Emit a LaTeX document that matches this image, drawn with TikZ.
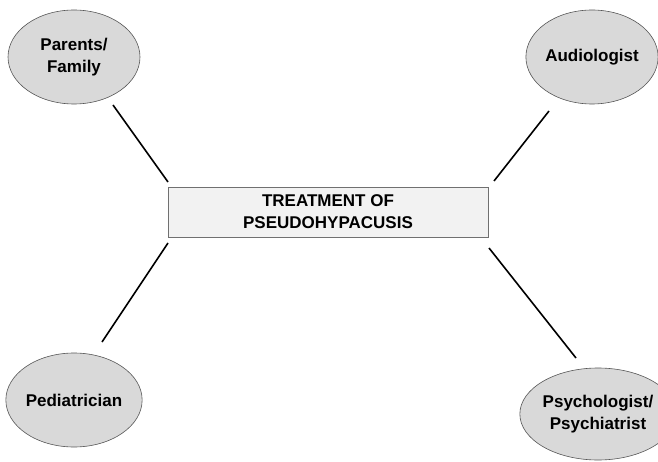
\documentclass[tikz,border=0pt]{standalone}
\usepackage{fontspec}
\setmainfont{Liberation Sans}
\usetikzlibrary{shapes.geometric}
\definecolor{ellfill}{HTML}{D9D9D9}
\definecolor{ellline}{HTML}{555555}
\definecolor{boxfill}{HTML}{F2F2F2}
\definecolor{boxline}{HTML}{707070}
\begin{document}
\begin{tikzpicture}[x=1pt,y=-1pt,
  role/.style={ellipse, draw=ellline, fill=ellfill, line width=0.6pt,
    minimum width=132pt, minimum height=94pt, inner sep=0pt,
    font=\fontsize{17}{22}\selectfont\bfseries, align=center},
  mainbox/.style={rectangle, draw=boxline, fill=boxfill, line width=0.7pt,
    minimum width=320pt, minimum height=50pt, inner sep=0pt,
    font=\fontsize{17}{22}\selectfont\bfseries, align=center},
  link/.style={line width=1.6pt, black}]
\useasboundingbox (0,0) rectangle (658,462);
\node[role] (pf) at (74,57) {Parents/\\Family};
\node[role] (au) at (592,57) {Audiologist};
\node[role] (pe) at (74,400) {Pediatrician};
\node[role, minimum width=130pt, minimum height=92pt] (ps) at (598,414) {Psychologist/\\Psychiatrist};
\node[mainbox] (tx) at (328,212) {TREATMENT OF\\PSEUDOHYPACUSIS};
\coordinate (pfa) at (113,105);
\coordinate (pfb) at (168,182);
\coordinate (aua) at (549,111);
\coordinate (aub) at (494,181);
\coordinate (pea) at (102,342);
\coordinate (peb) at (168,243);
\coordinate (psa) at (576,358);
\coordinate (psb) at (489,248);
\draw[link] (pfa) -- (pfb);
\draw[link] (aua) -- (aub);
\draw[link] (pea) -- (peb);
\draw[link] (psa) -- (psb);
\end{tikzpicture}
\end{document}
